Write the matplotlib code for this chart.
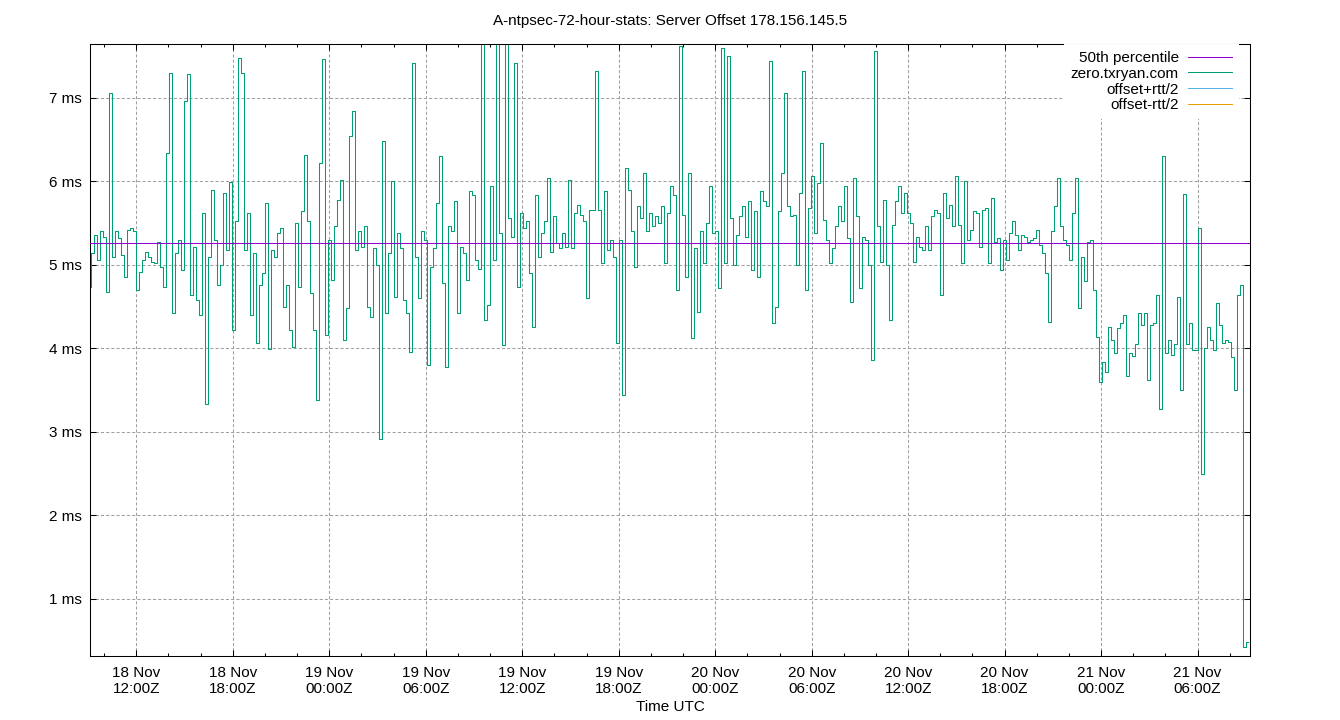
import numpy as np
import pandas as pd
import matplotlib
matplotlib.use("Agg")
import matplotlib.pyplot as plt
import matplotlib.dates as mdates
from matplotlib.ticker import FixedLocator, FormatStrFormatter

plt.rcParams['font.family'] = ['Liberation Sans', 'DejaVu Sans']

# ---------------- data ----------------
title = "A-ntpsec-72-hour-stats: Server Offset 178.156.145.5"
start_time = pd.Timestamp("2024-11-18 09:07:12")
window_hours = 72.14
sample_minutes = 11.19          # spacing of the read-off samples

# server offset of zero.txryan.com, ms
offset_18nov_am = [4.74, 5.14, 5.36, 5.06, 5.40, 5.34, 4.68, 7.06, 5.10, 5.40,
                   5.32, 5.12, 4.86, 5.42, 5.44, 5.40, 4.70, 4.92, 5.06, 5.16,
                   5.10, 5.04, 5.02, 5.28, 4.98, 4.74, 6.34, 7.30, 4.42, 5.14,
                   5.30, 4.94, 6.96, 7.28, 4.64, 5.22, 4.58, 4.40, 5.62, 3.34,
                   5.10, 5.90, 5.30, 4.76, 5.00, 5.86, 5.18, 5.99, 4.22, 5.52]
offset_18nov_pm = [7.48, 7.30, 5.18, 5.62, 4.40, 5.14, 4.06, 4.76, 4.90, 5.74,
                   3.99, 5.18, 5.10, 5.38, 5.44, 4.50, 4.76, 4.22, 4.02, 5.50,
                   4.74, 5.64, 6.32, 5.52, 4.66, 4.22, 3.38, 6.22, 7.46, 4.16,
                   5.30, 4.82, 5.46, 5.78, 6.02, 4.10, 4.48, 6.54, 6.84, 5.18,
                   5.40, 5.22, 5.46, 4.50, 4.38, 5.20, 5.00, 2.92, 6.48]
offset_19nov_am = [4.42, 5.14, 6.00, 4.62, 5.38, 5.20, 4.58, 4.42, 3.96, 7.42,
                   5.10, 4.60, 5.40, 5.30, 3.80, 4.98, 5.20, 5.74, 6.30, 4.78,
                   3.78, 5.46, 5.40, 5.76, 4.42, 5.22, 5.14, 4.82, 5.88, 5.84,
                   5.06, 4.95, 7.70, 4.34, 4.52, 5.94, 5.06, 7.70, 5.38, 4.04,
                   7.70, 5.56, 5.34, 7.42, 4.74, 5.62, 5.44, 5.52, 4.90]
offset_19nov_pm = [4.26, 5.84, 5.10, 5.38, 5.52, 6.04, 5.16, 5.58, 5.26, 5.20,
                   5.38, 5.22, 6.02, 5.20, 5.62, 5.72, 5.60, 5.52, 4.60, 5.66,
                   5.66, 7.32, 5.66, 5.02, 5.88, 5.18, 5.30, 5.10, 4.06, 5.30,
                   3.44, 6.16, 5.90, 5.40, 4.98, 5.70, 5.56, 6.10, 5.40, 5.62,
                   5.46, 5.58, 5.50, 5.70, 5.02, 5.62, 5.94, 5.84, 4.70]
offset_20nov_am = [7.62, 5.60, 4.86, 6.10, 4.12, 5.20, 4.44, 5.40, 5.02, 5.50,
                   5.94, 5.38, 5.40, 4.72, 7.60, 5.02, 7.50, 5.56, 5.00, 5.36,
                   5.58, 5.70, 5.34, 5.76, 4.94, 5.64, 4.86, 5.88, 5.76, 5.70,
                   7.44, 4.30, 4.50, 5.64, 6.10, 7.06, 5.70, 5.58, 5.60, 5.00,
                   5.86, 7.32, 4.70, 5.68, 6.06, 5.38, 5.98, 6.46, 5.54]
offset_20nov_mid = [5.30, 5.02, 5.20, 5.46, 5.70, 5.52, 5.94, 5.32, 4.56, 6.04,
                    5.58, 4.72, 5.34, 5.30, 5.00, 3.86, 7.56, 5.46, 5.04, 5.78,
                    5.00, 4.34, 5.48, 5.76, 5.94, 5.62, 5.86, 5.62, 5.50, 5.04,
                    5.34, 5.22, 5.18, 5.46, 5.18, 5.58, 5.66, 5.62, 4.64, 5.86,
                    5.56, 5.72, 5.46, 6.06, 5.48, 5.02, 6.00, 5.30, 5.42]
offset_20nov_pm = [5.64, 5.62, 5.22, 5.66, 5.68, 5.02, 5.80, 5.28, 5.32, 4.94,
                   5.30, 5.06, 5.38, 5.52, 5.36, 5.18, 5.36, 5.34, 5.28, 5.30,
                   5.32, 5.42, 5.24, 5.14, 4.90, 4.32, 5.40, 5.70, 6.04, 5.46,
                   5.30, 5.24, 5.06, 5.62, 6.04, 4.48, 5.10, 4.81, 5.28, 5.30,
                   4.70, 4.14, 3.60, 3.84, 3.72, 4.26]
offset_21nov = [4.10, 3.95, 4.24, 4.30, 4.40, 3.67, 3.95, 3.91, 4.05, 4.43,
                4.28, 4.43, 3.62, 4.28, 4.30, 4.64, 3.27, 6.30, 3.95, 4.10,
                3.92, 4.05, 4.62, 3.50, 5.85, 4.05, 4.30, 3.98, 3.98, 5.44,
                2.50, 4.00, 4.26, 4.10, 3.98, 4.54, 4.28, 4.06, 4.10, 4.08,
                3.90, 3.50, 4.64, 4.76, 0.42, 0.48]

median_ms = 5.26                 # 50th percentile
offset_plus_rtt_ms = []          # not visible in the picture
offset_minus_rtt_ms = []         # not visible in the picture

y_ticks = [1, 2, 3, 4, 5, 6, 7]
y_range = (0.317, 7.645)

series_names = ["50th percentile", "zero.txryan.com", "offset+rtt/2", "offset-rtt/2"]
series_colors = ["#9400d3", "#009e73", "#56b4e9", "#e69f00"]

# ---------------- build ----------------
offset_ms = np.array(offset_18nov_am + offset_18nov_pm + offset_19nov_am +
                     offset_19nov_pm + offset_20nov_am + offset_20nov_mid +
                     offset_20nov_pm + offset_21nov)
times = start_time + pd.to_timedelta(np.arange(len(offset_ms)) * sample_minutes, unit="min")
end_time = start_time + pd.Timedelta(hours=window_hours)

W, H = 1340, 720
fig = plt.figure(figsize=(W / 100, H / 100), dpi=100)
ax = fig.add_axes([90 / W, 64 / H, 1160 / W, 612 / H])

lw = 0.75
fs = 11

h_med = ax.axhline(median_ms, color=series_colors[0], lw=lw, zorder=3, label=series_names[0])
h_off, = ax.plot(times, offset_ms, color=series_colors[1], lw=lw, zorder=2,
                 drawstyle="steps-mid", label=series_names[1])
h_plus, = ax.plot(times[:len(offset_plus_rtt_ms)], offset_plus_rtt_ms,
                  color=series_colors[2], lw=lw, label=series_names[2])
h_minus, = ax.plot(times[:len(offset_minus_rtt_ms)], offset_minus_rtt_ms,
                   color=series_colors[3], lw=lw, label=series_names[3])

ax.set_xlim(start_time, end_time)
ax.set_ylim(*y_range)

ax.xaxis.set_major_locator(mdates.HourLocator(byhour=[0, 6, 12, 18]))
ax.xaxis.set_minor_locator(mdates.HourLocator(byhour=range(0, 24, 2)))
ax.xaxis.set_major_formatter(mdates.DateFormatter("%d %b\n%H:%MZ"))
ax.yaxis.set_major_locator(FixedLocator(y_ticks))
ax.yaxis.set_major_formatter(FormatStrFormatter("%d ms"))

ax.tick_params(which="both", direction="in", top=True, right=True, width=lw,
               colors="black", labelsize=fs)
ax.tick_params(which="major", length=6 * 0.72)
ax.tick_params(which="minor", length=3 * 0.72)
ax.tick_params(axis="x", which="major", pad=7)
ax.tick_params(axis="y", which="major", pad=6)

for s in ax.spines.values():
    s.set_linewidth(lw)
    s.set_color("black")

ax.set_axisbelow(True)
ax.grid(True, which="major", color="#a0a0a0", linestyle=(0, (3, 2)), linewidth=lw)

ax.set_title(title, fontsize=fs, pad=14)
ax.set_xlabel("Time UTC", fontsize=fs, labelpad=3)

leg = ax.legend(handles=[h_med, h_off, h_plus, h_minus], loc="upper right",
                bbox_to_anchor=((1239 - 90) / 1160, 1.0), borderaxespad=0,
                markerfirst=False, fontsize=fs, frameon=True, fancybox=False,
                framealpha=1.0, facecolor="white", edgecolor="white",
                handlelength=2.9, handletextpad=0.6, labelspacing=0.12,
                borderpad=0.45)
leg.get_frame().set_linewidth(0)

fig.savefig("out.png", dpi=100)
